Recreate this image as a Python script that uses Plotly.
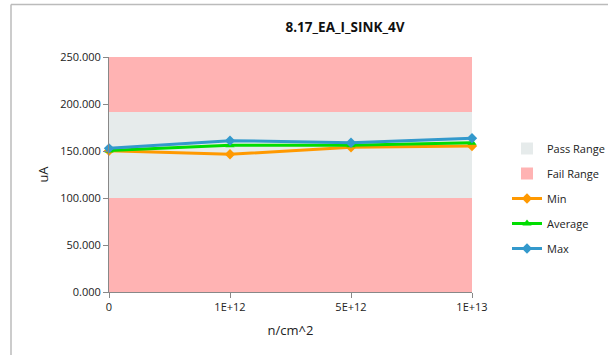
import plotly.graph_objects as go

categories = ["0", "1E+12", "5E+12", "1E+13"]
min_vals = [150.3, 146.5, 154.0, 155.3]
avg_vals = [150.5, 156.0, 156.0, 158.8]
max_vals = [152.8, 161.0, 158.8, 163.5]
fail_low = 100.0
pass_high = 191.5
y_max = 250.0
y_ticks = [0, 50, 100, 150, 200, 250]

W, H = 608, 355
L, R, T, B = 109, 136, 57, 63
pw, ph = W - L - R, H - T - B

xs = list(range(len(categories)))
fig = go.Figure()

bar_common = dict(width=1.0, hoverinfo="skip", marker_line_width=0)
fig.add_trace(go.Bar(x=xs, y=[fail_low] * 4, marker_color="#FFB3B3",
                     name="Fail Range", showlegend=False, legendgroup="fail", **bar_common))
fig.add_trace(go.Bar(x=xs, y=[pass_high - fail_low] * 4, marker_color="#E6EBEB",
                     name="Pass Range", legendgroup="pass", legendrank=1, **bar_common))
fig.add_trace(go.Bar(x=xs, y=[y_max - pass_high] * 4, marker_color="#FFB3B3",
                     name="Fail Range", legendgroup="fail", legendrank=2, **bar_common))

fig.add_trace(go.Scatter(x=xs, y=min_vals, name="Min", mode="lines+markers", legendgroup="min",
                         line=dict(color="#FF9900", width=3), cliponaxis=False,
                         marker=dict(symbol="diamond", size=8, color="#FF9900"), legendrank=3))
fig.add_trace(go.Scatter(x=xs, y=avg_vals, name="Average", mode="lines+markers", legendgroup="avg",
                         line=dict(color="#00DD00", width=3), cliponaxis=False,
                         marker=dict(symbol="triangle-up", size=8, color="#00DD00"), legendrank=4))
fig.add_trace(go.Scatter(x=xs, y=max_vals, name="Max", mode="lines+markers", legendgroup="max",
                         line=dict(color="#3399CC", width=3), cliponaxis=False,
                         marker=dict(symbol="diamond", size=8, color="#3399CC"), legendrank=5))

font = "Open Sans, Liberation Sans, sans-serif"

def px(x):
    return (x - L) / pw
def py(y):
    return 1 - (y - T) / ph

fig.update_layout(
    width=W, height=H,
    margin=dict(l=L, r=R, t=T, b=B, autoexpand=False),
    barmode="stack", bargap=0,
    paper_bgcolor="white", plot_bgcolor="white",
    font=dict(family=font, size=11, color="#222222"),
    title=dict(text="<b>8.17_EA_I_SINK_4V</b>", x=345 / W, xanchor="center",
               y=1 - 27 / H, yanchor="middle", font=dict(size=13.5, color="#111111")),
    legend=dict(x=px(507), y=py(134), xanchor="left", yanchor="top",
                traceorder="grouped", font=dict(size=11), tracegroupgap=6,
                itemwidth=30, bgcolor="rgba(0,0,0,0)"),
    xaxis=dict(range=[0, 3], tickmode="array", tickvals=xs, ticktext=categories,
               showgrid=False, zeroline=False, showline=True, linecolor="#888888",
               ticks="outside", ticklen=5, tickcolor="#888888",
               title=dict(text="n/cm^2", font=dict(size=13), standoff=12)),
    yaxis=dict(range=[0, y_max], tickmode="array", tickvals=y_ticks,
               ticktext=[f"{v:.3f}" for v in y_ticks],
               showgrid=False, zeroline=False, showline=True, linecolor="#888888",
               ticks="outside", ticklen=5, tickcolor="#888888",
               title=dict(text="uA", font=dict(size=13), standoff=8)),
    showlegend=True,
)

fig.add_shape(type="line", xref="paper", yref="paper", x0=px(11), x1=px(608), y0=py(4.5), y1=py(4.5),
              line=dict(color="#BBBBBB", width=1.5))
fig.add_shape(type="line", xref="paper", yref="paper", x0=px(11), x1=px(11), y0=py(4.5), y1=py(355),
              line=dict(color="#BBBBBB", width=1.5))

fig.write_html("out.html", config={"displayModeBar": False},
               post_script="document.body.style.margin='0';")
